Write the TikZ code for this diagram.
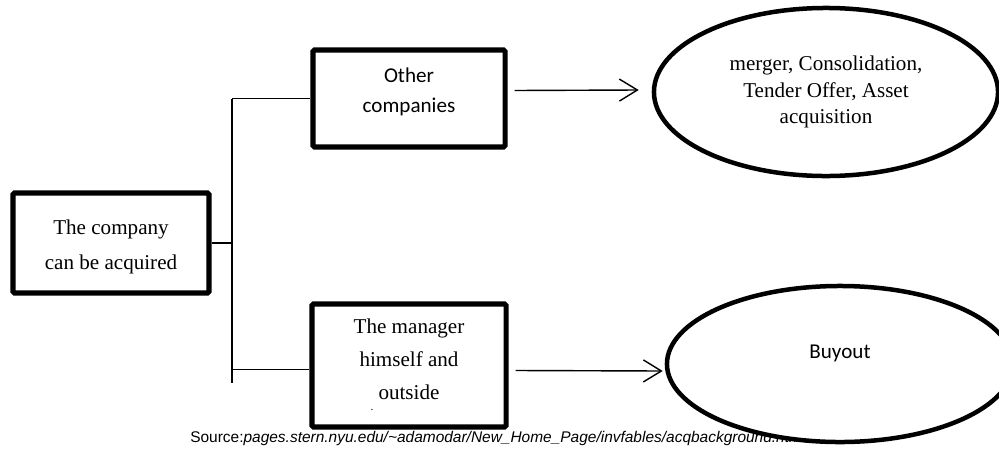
\documentclass[tikz,border=0pt]{standalone}
\usepackage{fontspec}
\setmainfont{Liberation Serif}
\newfontfamily\calibrifont{Carlito}
\newfontfamily\arialfont{Liberation Sans}
\usetikzlibrary{shapes.geometric,arrows.meta,calc}

\begin{document}
\begin{tikzpicture}[x=0.025cm,y=-0.025cm,
  box/.style={draw, line width=3.6pt, rounded corners=1pt, align=center, inner sep=0pt},
  oval/.style={ellipse, draw, fill=white, line width=3.2pt, align=center, inner sep=0pt},
  link/.style={line width=1pt},
  arrowline/.style={line width=1pt, -{Straight Barb[length=0.45cm,width=0.55cm,line width=1pt]}}]
\useasboundingbox (0,0) rectangle (999,448);

\node[box, minimum width=4.9cm, minimum height=2.5cm, font=\fontsize{15}{24.5}\selectfont] (company) at (111,243) {\rule{0pt}{0.57cm}The company\\can be acquired};
\node[box, minimum width=4.8cm, minimum height=2.425cm, font=\fontsize{15}{21.3}\calibrifont] (other) at (409,98.5) {Other\\companies\rule[-0.4cm]{0pt}{0pt}};
\node[box, minimum width=4.85cm, minimum height=3.075cm, font=\fontsize{15}{23.5}\selectfont] (manager) at (409,365.5) {The manager\\himself and\\outside\rule[-0.3cm]{0pt}{0pt}};
\node[inner sep=0pt, font=\fontsize{8}{8}\selectfont] (dot) at (372,410) {.};

\node[anchor=base west, inner sep=0pt, font=\fontsize{11}{13}\arialfont] (source) at (190,442) {Source:\textit{pages.stern.nyu.edu/\textasciitilde adamodar/New\_Home\_Page/invfables/acqbackground.htm}};

\node[oval, minimum width=8.6cm, minimum height=4.2cm, font=\fontsize{15}{18.8}\selectfont] (mergers) at (826,92) {merger, Consolidation,\\Tender Offer, Asset\\acquisition};
\node[oval, minimum width=8.65cm, minimum height=3.9cm, font=\fontsize{15}{18}\calibrifont] (buyout) at (840,364) {Buyout\rule[-0.6cm]{0pt}{0pt}};

\coordinate (top) at (232,98.5);
\coordinate (bot) at (232,383);
\draw[link] (company.east) -- (company.east -| top);
\draw[link] (top) -- (bot);
\draw[link] (top) -- (other.west);
\draw[link] ($(manager.west -| top)+(0,4)$) -- ($(manager.west)+(0,4)$);

\draw[arrowline] ($(other.east)+(7,-8)$) -- ($(mergers.west)+(-13,-2)$);
\draw[arrowline] ($(manager.east)+(7,5)$) -- ($(buyout.west)+(-2,7)$);
\end{tikzpicture}
\end{document}
